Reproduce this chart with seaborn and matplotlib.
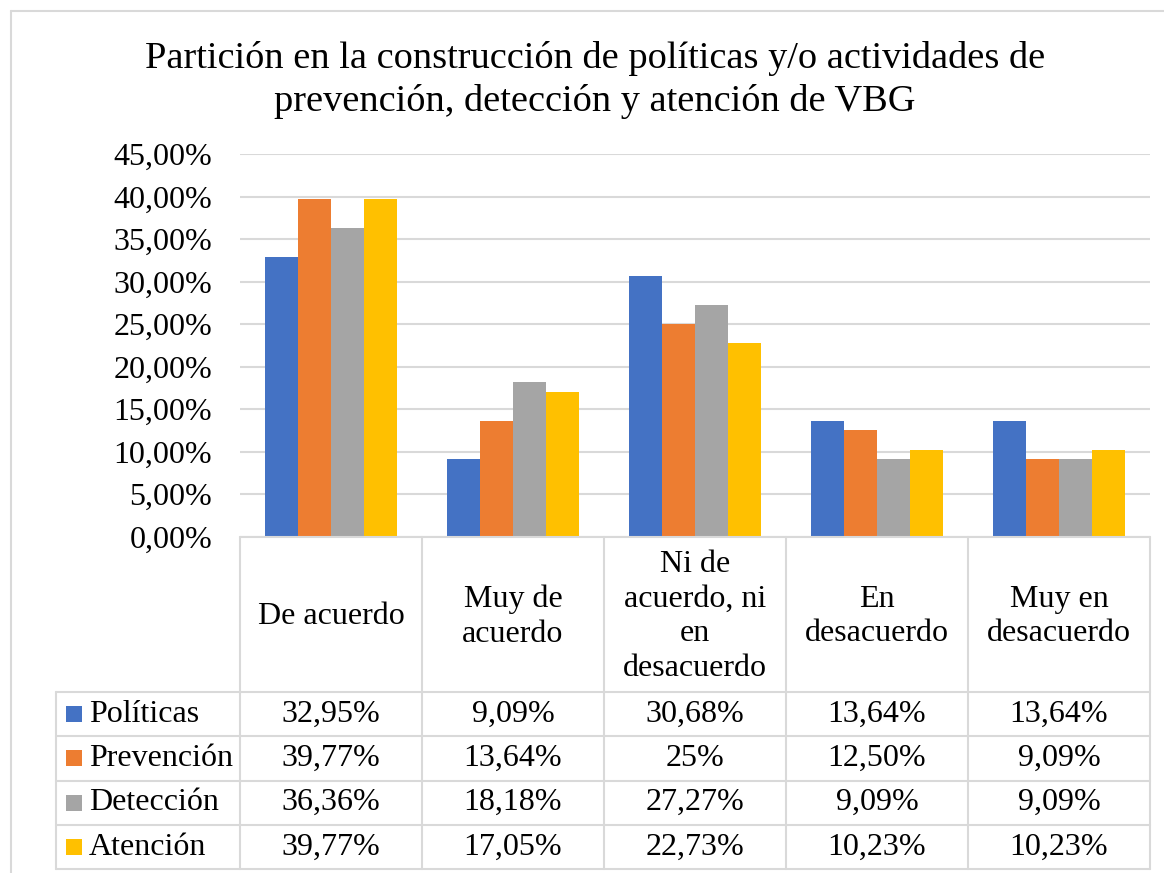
import matplotlib
matplotlib.use("Agg")
import matplotlib.pyplot as plt
import seaborn as sns
import pandas as pd
from matplotlib.lines import Line2D
from matplotlib.patches import Rectangle

# ---------------- data ----------------
categories = ["De acuerdo", "Muy de\nacuerdo", "Ni de\nacuerdo, ni\nen\ndesacuerdo",
              "En\ndesacuerdo", "Muy en\ndesacuerdo"]
series = ["Políticas", "Prevención", "Detección", "Atención"]
politicas = [32.95, 9.09, 30.68, 13.64, 13.64]
prevencion = [39.77, 13.64, 25.00, 12.50, 9.09]
deteccion = [36.36, 18.18, 27.27, 9.09, 9.09]
atencion = [39.77, 17.05, 22.73, 10.23, 10.23]
politicas_txt = ["32,95%", "9,09%", "30,68%", "13,64%", "13,64%"]
prevencion_txt = ["39,77%", "13,64%", "25%", "12,50%", "9,09%"]
deteccion_txt = ["36,36%", "18,18%", "27,27%", "9,09%", "9,09%"]
atencion_txt = ["39,77%", "17,05%", "22,73%", "10,23%", "10,23%"]
yticks = [0, 5, 10, 15, 20, 25, 30, 35, 40, 45]
ytick_labels = ["0,00%", "5,00%", "10,00%", "15,00%", "20,00%", "25,00%",
                "30,00%", "35,00%", "40,00%", "45,00%"]
title = ("Partición en la construcción de políticas y/o actividades de\n"
         "prevención, detección y atención de VBG")
colors = ["#4472C4", "#ED7D31", "#A5A5A5", "#FFC000"]

values = [politicas, prevencion, deteccion, atencion]
texts = [politicas_txt, prevencion_txt, deteccion_txt, atencion_txt]

rows = []
for s, vals in zip(series, values):
    for c, v in zip(categories, vals):
        rows.append({"cat": c, "serie": s, "val": v})
df = pd.DataFrame(rows)

# ---------------- figure ----------------
sns.set_theme(style="white")
plt.rcParams["font.family"] = ["Liberation Serif", "DejaVu Serif"]
plt.rcParams["text.color"] = "black"
plt.rcParams["ytick.color"] = "black"
plt.rcParams["xtick.color"] = "black"

W, H = 1164, 873
fig = plt.figure(figsize=(W / 100, H / 100), dpi=100)
fig.patch.set_facecolor("white")


def fx(x):
    return x / W


def fy(y):
    return 1 - y / H


left_px, right_px, top_px, bottom_px = 240, 1150, 154.3, 536.5
ax = fig.add_axes([fx(left_px), fy(bottom_px), fx(right_px - left_px), (bottom_px - top_px) / H])

sns.barplot(data=df, x="cat", y="val", hue="serie", order=categories, hue_order=series,
            palette=colors, width=0.725, saturation=1, errorbar=None, legend=False, ax=ax,
            linewidth=0)
ax.set_xlim(-0.5, len(categories) - 0.5)
ax.set_ylim(0, 45)
ax.set_yticks(yticks)
ax.set_yticklabels(ytick_labels, fontsize=23, color="black")
ax.set_xticks([])
ax.set_xlabel("")
ax.set_ylabel("")
ax.tick_params(axis="y", length=0, pad=20)
for sp in ax.spines.values():
    sp.set_visible(False)
ax.yaxis.grid(True, color="#d9d9d9", lw=1.5)
ax.set_axisbelow(True)
ax.set_facecolor("white")

# ---------------- title ----------------
fig.text(fx(595), fy(80), title, ha="center", va="center", fontsize=27.6,
         linespacing=1.3, color="black")

# ---------------- outer chart border ----------------
border_c = "#d9d9d9"
fig.add_artist(Line2D([fx(11), fx(1164)], [fy(11), fy(11)], color=border_c, lw=1.5,
                      transform=fig.transFigure))
fig.add_artist(Line2D([fx(11), fx(11)], [fy(11), fy(873)], color=border_c, lw=1.5,
                      transform=fig.transFigure))

# ---------------- data table ----------------
col_x = [240 + i * 182 for i in range(len(categories) + 1)]
leg_left = 56
header_top, header_bot = 537, 692
row_h = 44.3
row_y = [header_bot + i * row_h for i in range(len(series) + 1)]


def hline(x0, x1, y):
    fig.add_artist(Line2D([fx(x0), fx(x1)], [fy(y), fy(y)], color=border_c, lw=1.5,
                          transform=fig.transFigure))


def vline(x, y0, y1):
    fig.add_artist(Line2D([fx(x), fx(x)], [fy(y0), fy(y1)], color=border_c, lw=1.5,
                          transform=fig.transFigure))


hline(col_x[0], col_x[-1], header_top)
for y in row_y:
    hline(leg_left, col_x[-1], y)
vline(leg_left, row_y[0], row_y[-1])
for x in col_x:
    vline(x, header_top, row_y[-1])

# header labels
for i, c in enumerate(categories):
    cx = (col_x[i] + col_x[i + 1]) / 2
    fig.text(fx(cx), fy((header_top + header_bot) / 2 + 2), c, ha="center", va="center",
             fontsize=23, linespacing=1.27, color="black")

# rows
for r, (s, col, txts) in enumerate(zip(series, colors, texts)):
    cy = (row_y[r] + row_y[r + 1]) / 2
    sq = 16
    fig.add_artist(Rectangle((fx(66), fy(cy + sq / 2)), sq / W, sq / H, color=col,
                             transform=fig.transFigure, lw=0))
    fig.text(fx(89), fy(cy), s, ha="left", va="center", fontsize=23, color="black")
    for i, t in enumerate(txts):
        cx = (col_x[i] + col_x[i + 1]) / 2
        fig.text(fx(cx), fy(cy), t, ha="center", va="center", fontsize=23, color="black")

fig.savefig("out.png", dpi=100, facecolor="white")
